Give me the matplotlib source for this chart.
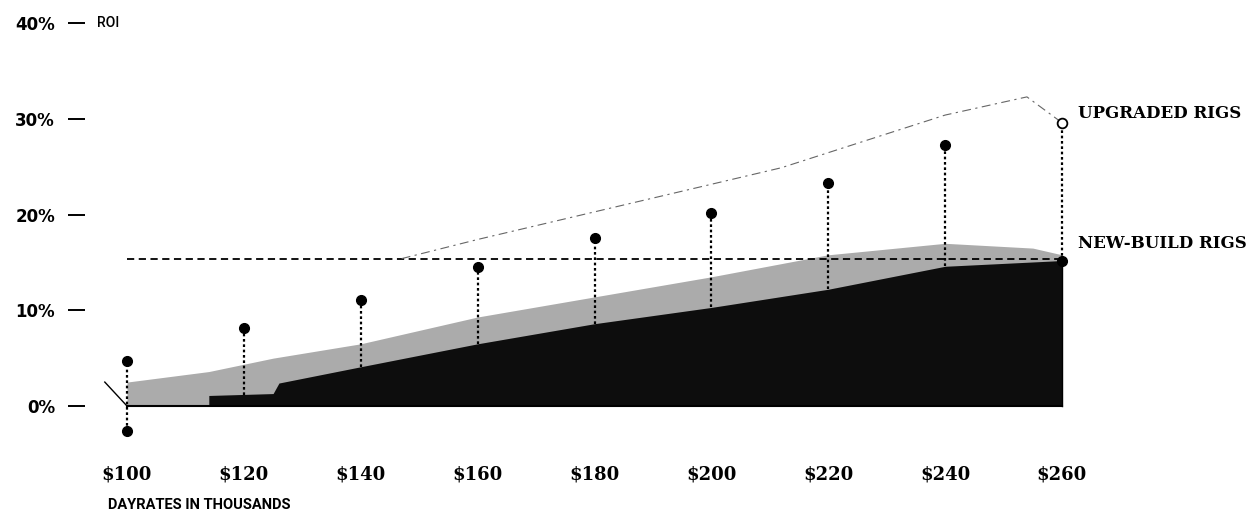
import matplotlib
matplotlib.use("Agg")
import matplotlib.pyplot as plt

# ---- data ----
dayrates = [100, 120, 140, 160, 180, 200, 220, 240, 260]
x_labels = ["$100", "$120", "$140", "$160", "$180", "$200", "$220", "$240", "$260"]
upgraded = [4.7, 8.2, 11.1, 14.5, 17.6, 20.2, 23.3, 27.3, 29.6]
newbuild = [-2.6, 1.2, 4.1, 6.5, 8.6, 10.3, 12.2, 14.6, 15.2]

# dark (new-build) band
band_x = [114, 125, 126, 140, 160, 180, 200, 220, 240, 260]
band_top = [1.1, 1.3, 2.4, 4.1, 6.5, 8.6, 10.3, 12.2, 14.6, 15.2]
# lighter haze above the band
haze_x = [100, 114, 125, 140, 160, 180, 200, 220, 240, 255, 260]
haze_top = [2.5, 3.6, 5.0, 6.5, 9.3, 11.4, 13.5, 15.8, 17.0, 16.5, 15.8]

# reference lines
flat_level = 15.4
rise_x = [147, 160, 212, 240, 254, 260]
rise_y = [15.4, 17.4, 24.9, 30.4, 32.3, 29.6]
lead_x = [96.2, 100]
lead_y = [2.5, 0]

y_ticks = [0, 10, 20, 30, 40]
y_labels = ["0%", "10%", "20%", "30%", "40%"]

W, H = 1250, 515
fig = plt.figure(figsize=(W / 100, H / 100), dpi=100)
L, R, T, B = 85, 1075, 15, 440
ax = fig.add_axes([L / W, 1 - B / H, (R - L) / W, (B - T) / H])

pxx = (1062 - 127) / 160.0
pxy = 9.57
ax.set_xlim(100 - (127 - L) / pxx, 100 + (R - 127) / pxx)
ax.set_ylim(-(B - 406) / pxy, (406 - T) / pxy)

for s in ax.spines.values():
    s.set_visible(False)

# fills
ax.fill_between(haze_x, 0, haze_top, color="#ababab", lw=0, zorder=1)
ax.fill_between(band_x, 0, band_top, color="#0d0d0d", lw=0, zorder=2)

# baseline and right edge
ax.plot([dayrates[0], dayrates[-1]], [0, 0], color="black", lw=1.5, zorder=3)
ax.plot([dayrates[-1], dayrates[-1]], [0, newbuild[-1]], color="black", lw=1.0, zorder=3)

# reference lines
ax.plot([dayrates[0], dayrates[-1]], [flat_level, flat_level], color="black",
        lw=1.3, ls=(0, (4, 2.5)), zorder=3)
ax.plot(rise_x, rise_y, color="#666666", lw=0.8, ls=(0, (8, 4, 2, 4)), zorder=3)
ax.plot(lead_x, lead_y, color="black", lw=1.0, zorder=3)

# stems
n = len(dayrates)
for i, x in enumerate(dayrates):
    if i == 0:
        lo = newbuild[0]
    elif i == n - 1:
        lo = newbuild[-1]
    else:
        lo = newbuild[i]
    ax.plot([x, x], [lo, upgraded[i]], color="black", lw=1.6, ls=(0, (1.2, 1.2)), zorder=4)

# markers
ax.plot(dayrates[:-1], upgraded[:-1], "o", color="black", ms=7, zorder=5, clip_on=False)
ax.plot(dayrates[-1:], upgraded[-1:], "o", mfc="white", mec="black", mew=1.3, ms=7,
        zorder=5, clip_on=False)
ax.plot([dayrates[0], dayrates[-1]], [newbuild[0], newbuild[-1]], "o", color="black",
        ms=7, zorder=5, clip_on=False)

# axes ticks
ax.set_yticks(y_ticks)
ax.set_yticklabels(y_labels, fontsize=12, fontweight="bold", family="DejaVu Sans")
ax.tick_params(axis="y", length=12.2, width=1.4, pad=9.4, direction="out")
ax.set_xticks(dayrates)
ax.set_xticklabels(x_labels, fontsize=13, fontweight="bold", family="DejaVu Serif")
ax.tick_params(axis="x", length=0, pad=18.5)

narrow = ["Roboto", "DejaVu Sans"]
ax.text(100 - (127 - 97) / pxx, 40, "ROI", fontsize=10, family=narrow,
        fontweight="medium", va="center", ha="left")
fig.text(108 / W, 1 - 505 / H, "DAYRATES IN THOUSANDS", fontsize=10.5, family=narrow,
         fontweight="bold", va="center", ha="left")

fig.text(1078 / W, 1 - 113 / H, "UPGRADED RIGS", fontsize=12, fontweight="bold",
         family="DejaVu Serif", va="center", ha="left")
fig.text(1078 / W, 1 - 243 / H, "NEW-BUILD RIGS", fontsize=12, fontweight="bold",
         family="DejaVu Serif", va="center", ha="left")

fig.savefig("out.png", dpi=100, facecolor="white")
